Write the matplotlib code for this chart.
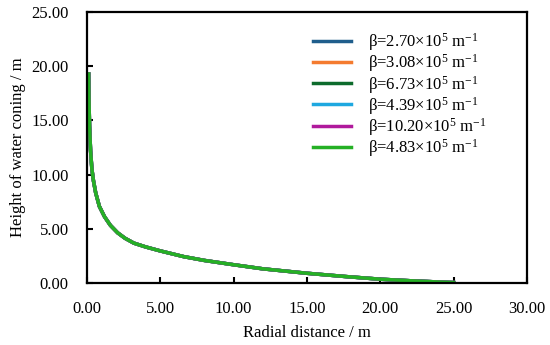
import matplotlib.pyplot as plt
import numpy as np

plt.rcParams['font.family'] = ['Liberation Serif', 'DejaVu Serif']
plt.rcParams['mathtext.fontset'] = 'custom'
plt.rcParams['mathtext.rm'] = 'Liberation Serif'
plt.rcParams['mathtext.it'] = 'Liberation Serif:italic'

# radial distance (m) and height of water coning (m), curves overlap
radius = np.array([0.12, 0.14, 0.18, 0.25, 0.34, 0.45, 0.6, 0.85, 1.2, 1.6, 2.1, 2.6,
                   3.2, 4.0, 5.0, 6.6, 8.0, 10.0, 12.0, 15.0, 17.7, 20.0, 22.0, 24.0, 25.0])
height = np.array([19.3, 17.0, 14.5, 12.2, 10.5, 9.4, 8.3, 7.05, 6.1, 5.3, 4.6, 4.1,
                   3.65, 3.3, 2.93, 2.4, 2.05, 1.65, 1.27, 0.86, 0.55, 0.31, 0.17, 0.05, 0.0])

betas = ['2.70', '3.08', '6.73', '4.39', '10.20', '4.83']
colors = ['#1f5e8c', '#f47b2f', '#0d6b2c', '#1ea8e0', '#b01a9c', '#25b025']

fig = plt.figure(figsize=(5.5, 3.45), dpi=100)
ax = fig.add_axes([0.158, 0.181, 0.800, 0.783])

for b, c in zip(betas, colors):
    ax.plot(radius, height, color=c, lw=2.5,
            label=r'β=' + b + r'×10$^{5}$ m$^{-1}$')

ax.set_xlim(0, 30)
ax.set_ylim(0, 25)
ax.set_xticks(np.arange(0, 31, 5))
ax.set_yticks(np.arange(0, 26, 5))
ax.set_xticklabels(['%.2f' % v for v in np.arange(0, 31, 5)])
ax.set_yticklabels(['%.2f' % v for v in np.arange(0, 26, 5)])
ax.tick_params(direction='in', length=4, width=1.5, labelsize=12,
               top=False, right=False)
ax.tick_params(axis='y', pad=13)
ax.tick_params(axis='x', pad=13)
for s in ax.spines.values():
    s.set_linewidth(1.6)

ax.set_xlabel('Radial distance / m', fontsize=12, labelpad=6)
ax.set_ylabel('Height of water coning / m', fontsize=12, labelpad=3.5)

ax.legend(loc='upper left', bbox_to_anchor=(0.48, 0.985), frameon=False,
          fontsize=12, handlelength=2.3, handletextpad=1.0, labelspacing=-0.05)

fig.savefig('out.png', dpi=100)
